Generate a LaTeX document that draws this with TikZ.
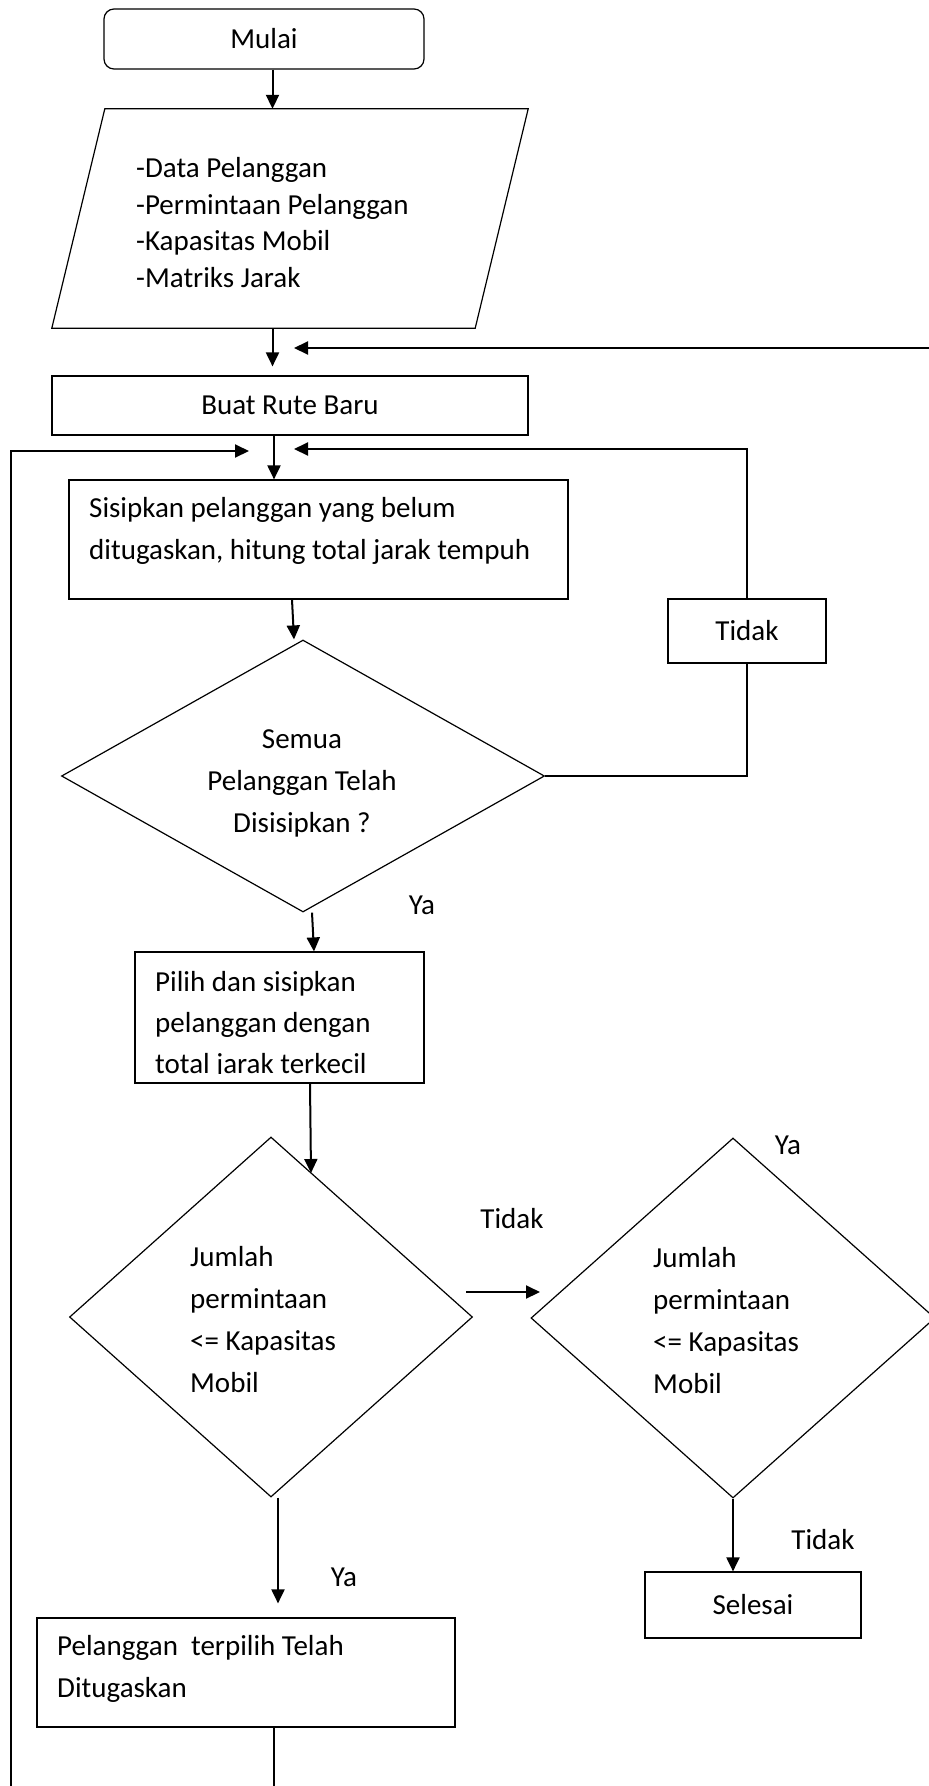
\documentclass[tikz,border=0pt]{standalone}
\usepackage{fontspec}
\setmainfont{Carlito}
\usetikzlibrary{arrows.meta,shapes.geometric}

\begin{document}
\begin{tikzpicture}[x=1pt,y=-1pt,
  font=\fontsize{29}{42}\selectfont,
  proc/.style={draw, line width=1.2pt, rectangle, inner sep=0pt},
  term/.style={proc, rounded corners=10pt},
  frame/.style={rectangle, inner sep=0pt},
  outline/.style={line width=1.2pt},
  dec/.style={draw, line width=1.2pt, diamond, inner sep=0pt},
  txt/.style={inner sep=0pt, align=left, anchor=north west},
  dtxt/.style={inner sep=0pt, align=left, anchor=west},
  lbl/.style={inner sep=0pt},
  arr/.style={-{Triangle[length=14pt,width=13pt]}, line width=2pt},
  wire/.style={line width=1.5pt}]

\useasboundingbox (0,0) rectangle (929,1786);

% start terminal
\node[term, minimum width=320pt, minimum height=60pt] (mulai) at (264,39) {Mulai};

% input parallelogram: frame node plus slanted outline
\node[frame, minimum width=476pt, minimum height=219pt] (data) at (290,218.5) {};
\draw[outline] ([xshift=53pt]data.north west) -- (data.north east)
  -- ([xshift=-53pt]data.south east) -- (data.south west) -- cycle;
\node[txt, font=\fontsize{29}{36.5}\selectfont] (datatxt) at (136,157.5)
  {-Data Pelanggan\\-Permintaan Pelanggan\\-Kapasitas Mobil\\-Matriks Jarak};

% process boxes
\node[proc, minimum width=476pt, minimum height=59pt] (buat) at (290,405.5) {Buat Rute Baru};
\node[proc, minimum width=499pt, minimum height=119pt] (sisip) at (318.5,539.5) {};
\node[txt] (sisiptxt) at (89,497)
  {Sisipkan pelanggan yang belum\\ditugaskan, hitung total jarak tempuh};
\node[proc, minimum width=158pt, minimum height=64pt] (tidak) at (747,631) {Tidak};

% first decision
\node[dec, aspect=2, minimum width=483pt, minimum height=272pt] (cek) at (303,776) {};
\node[lbl, align=center] (cektxt) at (302,783) {Semua\\Pelanggan Telah\\Disisipkan ?};

% choose the cheapest insertion (last line runs past the text area)
\node[proc, minimum width=289pt, minimum height=131pt] (pilih) at (279.5,1017.5) {};
\begin{scope}
  \clip (135,952) rectangle (424,1073);
  \node[txt, font=\fontsize{29}{41}\selectfont] (pilihtxt) at (155,971)
    {Pilih dan sisipkan\\pelanggan dengan\\total jarak terkecil};
\end{scope}

% capacity checks
\node[dec, aspect=1, minimum width=403pt, minimum height=360pt] (cap1) at (271,1317) {};
\node[dtxt] (cap1txt) at (190,1320) {Jumlah\\permintaan\\<= Kapasitas\\Mobil};
\node[dec, aspect=1, minimum width=404pt, minimum height=360pt] (cap2) at (733,1318) {};
\node[dtxt] (cap2txt) at (653,1321) {Jumlah\\permintaan\\<= Kapasitas\\Mobil};

% end and assignment boxes
\node[proc, minimum width=216pt, minimum height=66pt] (selesai) at (753,1605) {Selesai};
\node[proc, minimum width=418pt, minimum height=109pt] (tugas) at (246,1672.5) {};
\node[txt] (tugastxt) at (57,1635) {Pelanggan\ \ terpilih Telah\\Ditugaskan};

% branch labels
\node[lbl] (ya1) at (422,905) {Ya};
\node[lbl] (tidak1) at (512,1219) {Tidak};
\node[lbl] (ya2) at (788,1145) {Ya};
\node[lbl] (tidak2) at (823,1540) {Tidak};
\node[lbl] (ya3) at (344,1577) {Ya};

% free ends of the loop lines
\coordinate (fromR) at (935,348);
\coordinate (tipR) at (294,348);
\coordinate (loopL) at (10.7,1790);
\coordinate (tipL) at (249,451);
\coordinate (tipT) at (294,449);
\coordinate (hitD2) at (311,1173);
\coordinate (nextA) at (466,1292);
\coordinate (nextB) at (540,1292);
\coordinate (tail) at (274,1790);

% connectors
\draw[arr] (mulai.south -| 272.5,0) -- (data.north -| 272.5,0);
\draw[arr, shorten >=9pt] (data.south -| 272.5,0) -- (buat.north -| 272.5,0);
\draw[arr] (fromR) -- (tipR);
\draw[arr] (buat.south -| 274,0) -- (sisip.north -| 274,0);
\draw[arr] (loopL) |- (tipL);
\draw[wire] (cek.east) -- (cek.east -| tidak.south) -- (tidak.south);
\draw[arr] (tidak.north) |- (tipT);
\draw[arr] (sisip.south -| 292,0) -- (cek.north -| 294,0);
\draw[arr] (cek.south -| 312,0) -- (pilih.north -| 314,0);
\draw[arr] (pilih.south -| 310,0) -- (hitD2);
\draw[arr] (nextA) -- (nextB);
\draw[arr, shorten >=14pt] (cap1.south -| 278,0) -- (tugas.north -| 278,0);
\draw[arr] (cap2.south) -- (cap2.south |- selesai.north);
\draw[wire] (tugas.south -| 274,0) -- (tail);
\end{tikzpicture}
\end{document}
